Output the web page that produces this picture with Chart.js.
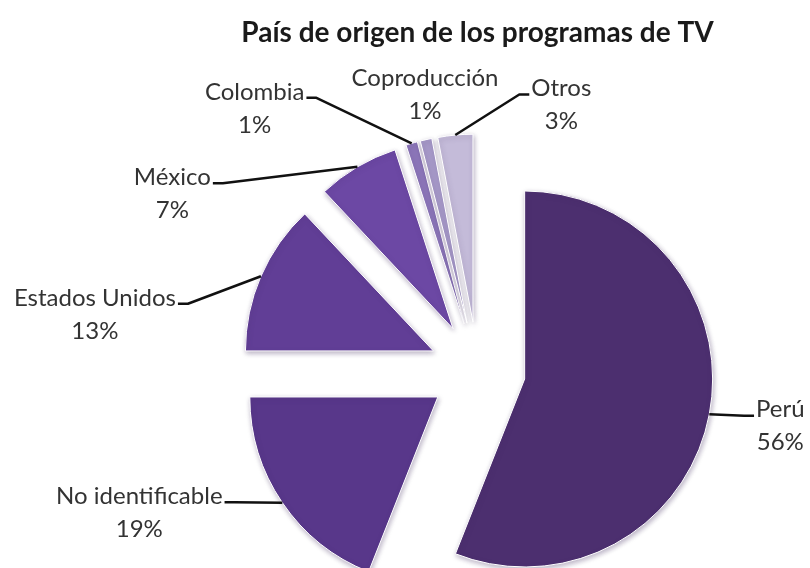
<!DOCTYPE html>
<html>
<head>
<meta charset="utf-8">
<script src="https://cdn.jsdelivr.net/npm/chart.js@4/dist/chart.umd.min.js"></script>
<style>
  html, body { margin: 0; padding: 0; background: #ffffff; }
  #wrap { width: 810px; height: 568px; position: relative; }
</style>
</head>
<body>
<div id="wrap"><canvas id="c" width="810" height="568"></canvas></div>
<script>
// ---- data ----
const categories = ["Perú", "No identificable", "Estados Unidos", "México", "Colombia", "Coproducción", "Otros"];
const values = [56, 19, 13, 7, 1, 1, 3];
const chartTitle = "País de origen de los programas de TV";

// ---- styles / layout (not data) ----
const sliceColors = ["#4c2f6f", "#58378a", "#613e96", "#6c48a4", "#8c76b9", "#a699c8", "#c4bbd9"];
const explode = 48;
// label block centre offsets relative to the slice's outer anchor point; showLine flags
const labelOffsets = [[71, 12], [-143, 10], [-166, 38], [-185, 27], [-157, -35], [-1, -45], [106, -30]];
const labelLines = [true, true, true, true, true, false, true];
const labelFont = "24px Lato, 'Open Sans', sans-serif";
const lineGap = 33;

const explodePlugin = {
  id: 'explode',
  beforeDatasetDraw(chart, args) {
    const ctx = chart.ctx;
    const meta = chart.getDatasetMeta(args.index);
    meta.data.forEach((arc) => {
      const mid = (arc.startAngle + arc.endAngle) / 2;
      ctx.save();
      ctx.shadowColor = 'rgba(60,40,90,0.35)';
      ctx.shadowBlur = 5;
      ctx.shadowOffsetX = 1;
      ctx.shadowOffsetY = 2;
      ctx.translate(Math.cos(mid) * explode, Math.sin(mid) * explode);
      arc.draw(ctx, chart.chartArea);
      ctx.restore();
    });
    return false;
  },
  afterDraw(chart) {
    const ctx = chart.ctx;
    const meta = chart.getDatasetMeta(0);
    const total = values.reduce((a, b) => a + b, 0);
    ctx.save();
    ctx.font = labelFont;
    meta.data.forEach((arc, i) => {
      const mid = (arc.startAngle + arc.endAngle) / 2;
      const r = arc.outerRadius + explode;
      const ax = arc.x + Math.cos(mid) * r;
      const ay = arc.y + Math.sin(mid) * r;
      const cx = ax + labelOffsets[i][0];
      const cy = ay + labelOffsets[i][1];
      const l1 = categories[i];
      const l2 = Math.round(values[i] / total * 100) + "%";
      const y1 = cy - lineGap / 2;
      const y2 = cy + lineGap / 2;
      ctx.fillStyle = '#333333';
      ctx.textAlign = 'center';
      ctx.textBaseline = 'middle';
      ctx.fillText(l1, cx, y1);
      ctx.fillText(l2, cx, y2);
      if (labelLines[i]) {
        const w = ctx.measureText(l1).width;
        const leftSide = cx < ax;
        const ex = leftSide ? cx + w / 2 + 2 : cx - w / 2 - 2;
        const ey = y1 + 6;
        const kx = leftSide ? ex + 10 : ex - 10;
        ctx.beginPath();
        ctx.moveTo(ax, ay);
        ctx.lineTo(kx, ey);
        ctx.lineTo(ex, ey);
        ctx.strokeStyle = '#111111';
        ctx.lineWidth = 2.5;
        ctx.lineJoin = 'round';
        ctx.stroke();
      }
    });
    ctx.restore();
  }
};

new Chart(document.getElementById('c'), {
  type: 'pie',
  data: {
    labels: categories,
    datasets: [{
      data: values,
      backgroundColor: sliceColors,
      borderColor: '#ffffff',
      borderWidth: 1
    }]
  },
  options: {
    responsive: false,
    animation: false,
    events: [],
    radius: 188,
    layout: { padding: { left: 145, right: 0, top: 0, bottom: 0 } },
    plugins: {
      legend: { display: false },
      tooltip: { enabled: false },
      title: {
        display: true,
        text: chartTitle,
        fullSize: false,
        color: '#1a1a1a',
        font: { family: "Lato, 'Open Sans', sans-serif", size: 28, weight: 'bold', lineHeight: 1.2 },
        padding: { top: 16, bottom: 122.4 }
      }
    }
  },
  plugins: [explodePlugin]
});
</script>
</body>
</html>
